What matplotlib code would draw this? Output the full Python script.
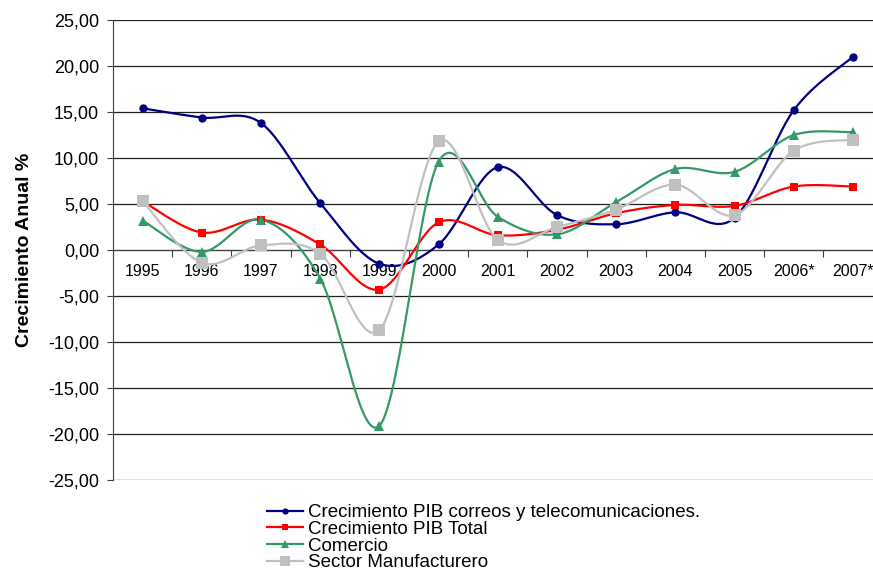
import numpy as np
import matplotlib
matplotlib.use("Agg")
import matplotlib.pyplot as plt
from matplotlib.ticker import FixedLocator, FuncFormatter

plt.rcParams["font.family"] = ["Liberation Sans", "DejaVu Sans"]

years = ["1995", "1996", "1997", "1998", "1999", "2000", "2001",
         "2002", "2003", "2004", "2005", "2006*", "2007*"]
correos = [15.4, 14.4, 13.8, 5.1, -1.5, 0.6, 9.0, 3.8, 2.8, 4.1, 3.5, 15.2, 21.0]
pib_total = [5.3, 1.9, 3.3, 0.6, -4.3, 3.0, 1.6, 2.2, 4.0, 4.9, 4.8, 6.9, 6.9]
comercio = [3.2, -0.2, 3.3, -3.1, -19.1, 9.6, 3.6, 1.7, 5.2, 8.8, 8.5, 12.5, 12.8]
manufactura = [5.3, -1.4, 0.5, -0.4, -8.7, 11.8, 1.1, 2.5, 4.4, 7.1, 3.8, 10.8, 12.0]

labels = ["Crecimiento PIB correos y telecomunicaciones.",
          "Crecimiento PIB Total", "Comercio", "Sector Manufacturero"]


def smooth(xs, ys, n=30):
    # Excel-like smoothed line (Catmull-Rom as cubic Bezier)
    p = np.column_stack([xs, ys]).astype(float)
    ext = np.vstack([p[0], p, p[-1]])
    out = []
    t = np.linspace(0, 1, n)[:, None]
    for i in range(len(p) - 1):
        p0, p1, p2, p3 = ext[i], ext[i + 1], ext[i + 2], ext[i + 3]
        c1 = p1 + (p2 - p0) / 6
        c2 = p2 - (p3 - p1) / 6
        seg = ((1 - t) ** 3 * p1 + 3 * (1 - t) ** 2 * t * c1
               + 3 * (1 - t) * t ** 2 * c2 + t ** 3 * p2)
        out.append(seg if i == 0 else seg[1:])
    seg = np.vstack(out)
    return seg[:, 0], seg[:, 1]


fig = plt.figure(figsize=(8.73, 5.73), dpi=100)
ax = fig.add_axes([113 / 873, 1 - 480 / 573, 769.6 / 873, 460 / 573])
x = np.arange(len(years))

series = [
    (correos, "#000080", "o", 6),
    (pib_total, "#ff0000", "s", 6),
    (comercio, "#339966", "^", 7),
    (manufactura, "#c0c0c0", "s", 9),
]
handles = []
for vals, color, marker, ms in series:
    sx, sy = smooth(x, vals)
    ax.plot(sx, sy, color=color, lw=1.6, zorder=3, solid_capstyle="round")
    ax.plot(x, vals, ls="none", marker=marker, ms=ms, color=color,
            markeredgewidth=0, zorder=4)
    h, = ax.plot([], [], color=color, lw=1.6, marker=marker,
                 ms=ms * 0.75, markeredgewidth=0)
    handles.append(h)

ax.set_xlim(-0.5, len(years) - 0.5)
ax.set_ylim(-25, 25)
ax.set_yticks(np.arange(-25, 26, 5))
ax.yaxis.set_major_formatter(FuncFormatter(lambda v, p: f"{v:.2f}".replace(".", ",")))
ax.grid(axis="y", color="#202020", lw=0.9)
ax.set_axisbelow(True)

ax.spines["top"].set_visible(False)
ax.spines["right"].set_visible(False)
ax.spines["bottom"].set_position(("data", 0))
ax.spines["bottom"].set_color("#404040")
ax.spines["left"].set_color("#404040")

ax.xaxis.set_major_locator(FixedLocator(np.arange(-0.5, len(years), 1)))
ax.xaxis.set_major_formatter(FuncFormatter(lambda v, p: ""))
ax.xaxis.set_minor_locator(FixedLocator(x))
ax.set_xticklabels(years, minor=True)
ax.tick_params(axis="x", which="major", direction="out", length=5, color="#404040")
ax.tick_params(axis="x", which="minor", length=0, pad=10, labelsize=11.5)
ax.tick_params(axis="y", direction="out", length=4.5, color="#404040",
               labelsize=13, pad=5.5)

ax.set_ylabel("Crecimiento Anual %", fontsize=14, fontweight="bold", labelpad=11)

fig.legend(handles, labels, loc="upper left", bbox_to_anchor=(267 / 873, 1 - 504 / 573),
           frameon=False, fontsize=13.5, handlelength=1.92, handletextpad=0.27,
           labelspacing=-0.02, borderpad=0, borderaxespad=0)

fig.savefig("out.png", dpi=100)
